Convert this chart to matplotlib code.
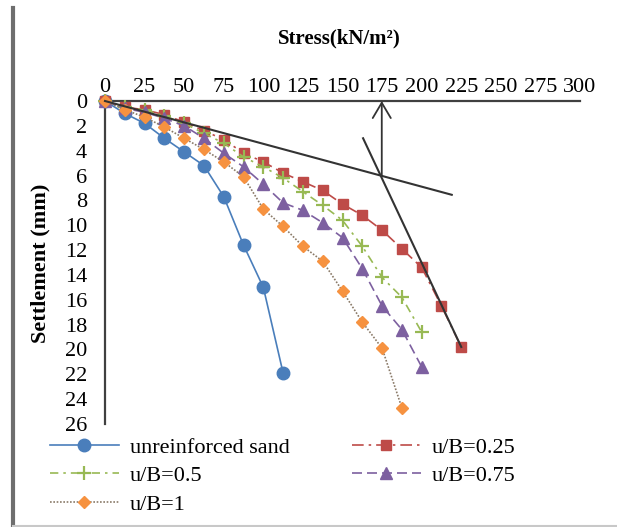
import matplotlib
matplotlib.use("Agg")
import matplotlib.pyplot as plt
from matplotlib.lines import Line2D

plt.rcParams['font.family'] = ['Liberation Serif', 'DejaVu Serif']

# ---- data (stress kN/m^2, settlement mm) ----
stress_unreinf = [0, 12.5, 25, 37.5, 50, 62.5, 75, 87.5, 100, 112.5]
settle_unreinf = [0, 1.0, 1.8, 3.0, 4.1, 5.2, 7.7, 11.6, 15.0, 21.9]

stress_025 = [0, 12.5, 25, 37.5, 50, 62.5, 75, 87.5, 100, 112.5, 125, 137.5,
              150, 162.5, 175, 187.5, 200, 212.5, 225]
settle_025 = [0, 0.5, 0.7, 1.1, 1.7, 2.4, 3.1, 4.2, 4.9, 5.8, 6.5, 7.2,
              8.3, 9.2, 10.4, 11.9, 13.4, 16.5, 19.8]

stress_05 = [0, 12.5, 25, 37.5, 50, 62.5, 75, 87.5, 100, 112.5, 125, 137.5,
             150, 162.5, 175, 187.5, 200]
settle_05 = [0, 0.5, 0.7, 1.2, 1.8, 2.6, 3.4, 4.5, 5.3, 6.2, 7.3, 8.4,
             9.6, 11.7, 14.2, 15.8, 18.6]

stress_075 = [0, 12.5, 25, 37.5, 50, 62.5, 75, 87.5, 100, 112.5, 125, 137.5,
              150, 162.5, 175, 187.5, 200]
settle_075 = [0, 0.6, 0.9, 1.4, 2.0, 3.0, 4.2, 5.3, 6.7, 8.2, 8.8, 9.8,
              11.0, 13.5, 16.5, 18.4, 21.4]

stress_1 = [0, 12.5, 25, 37.5, 50, 62.5, 75, 87.5, 100, 112.5, 125, 137.5,
            150, 162.5, 175, 187.5]
settle_1 = [0, 0.7, 1.3, 2.1, 3.0, 3.9, 4.9, 6.1, 8.7, 10.1, 11.7, 12.9,
            15.3, 17.8, 19.9, 24.7]

# tangent-intersection construction lines
tan1_x = [0, 219]
tan1_y = [0, 7.55]
tan2_x = [163, 225]
tan2_y = [3.0, 19.8]
arrow_x = 174.8
arrow_y0 = 6.0

xticks = [0, 25, 50, 75, 100, 125, 150, 175, 200, 225, 250, 275, 300]
yticks = [0, 2, 4, 6, 8, 10, 12, 14, 16, 18, 20, 22, 24, 26]

W, H = 617, 527
fig = plt.figure(figsize=(W / 100, H / 100), dpi=100)
ax = fig.add_axes([105 / W, 1 - 424 / H, (580 - 105) / W, (424 - 101) / H])

c_blue = '#4a7ebb'
c_red = '#be4b48'
c_green = '#98b954'
c_purple = '#7d60a0'
c_orange = '#f69240'

h1, = ax.plot(stress_unreinf, settle_unreinf, color=c_blue, lw=1.2, ls='-',
              marker='o', ms=9, clip_on=False, label='unreinforced sand', zorder=3)
h2, = ax.plot(stress_025, settle_025, color=c_red, lw=1.2, ls=(0, (7, 3, 1.5, 3)),
              marker='s', ms=6.5, clip_on=False, label='u/B=0.25', zorder=3)
h3, = ax.plot(stress_05, settle_05, color=c_green, lw=1.2, ls=(0, (5, 3, 1.5, 3)),
              marker='+', ms=10, mew=1.6, clip_on=False, label='u/B=0.5', zorder=3)
h4, = ax.plot(stress_075, settle_075, color=c_purple, lw=1.2, ls=(0, (6, 3)),
              marker='^', ms=8.5, clip_on=False, label='u/B=0.75', zorder=3)
h5, = ax.plot(stress_1, settle_1, color='#8a7a68', lw=1.2, ls=(0, (1, 1)),
              marker='D', ms=6.5, mfc=c_orange, mec=c_orange,
              clip_on=False, label='u/B=1', zorder=3)

# construction lines
ax.plot(tan1_x, tan1_y, color='#333333', lw=1.5, clip_on=False, zorder=4)
ax.plot(tan2_x, tan2_y, color='#333333', lw=1.5, clip_on=False, zorder=4)
ax.annotate('', xy=(arrow_x, 0), xytext=(arrow_x, arrow_y0),
            arrowprops=dict(arrowstyle='->,head_length=1.1,head_width=0.65',
                            color='#333333', lw=1.3, mutation_scale=10,
                            shrinkA=0, shrinkB=0), zorder=4)

ax.set_xlim(0, 300)
ax.set_ylim(26, 0)
ax.set_xticks(xticks)
ax.set_yticks(yticks)
ax.xaxis.tick_top()
ax.tick_params(axis='x', length=0, pad=3, labelsize=16)
ax.tick_params(axis='y', length=0, pad=13, labelsize=16)
for s in ['right', 'bottom']:
    ax.spines[s].set_visible(False)
for s in ['top', 'left']:
    ax.spines[s].set_color('#404040')
    ax.spines[s].set_linewidth(1.6)

fig.text(339 / W, 1 - 38 / H, 'Stress(kN/m²)', fontsize=15, fontweight='bold',
         ha='center', va='center')
fig.text(40 / W, 1 - 263 / H, 'Settlement (mm)', fontsize=16, fontweight='bold',
         ha='center', va='center', rotation=90)

leg = fig.legend([h1, h3, h5, h2, h4],
                 ['unreinforced sand', 'u/B=0.5', 'u/B=1', 'u/B=0.25', 'u/B=0.75'],
                 ncol=2, loc='upper left', bbox_to_anchor=(50 / W, 1 - 437 / H),
                 frameon=False, fontsize=16, handlelength=3.1, handletextpad=0.5,
                 columnspacing=2.8, labelspacing=0.36, borderpad=0, borderaxespad=0)

# image frame
fig.add_artist(Line2D([13 / W, 13 / W], [0, 1 - 8 / H], color='#6e6e6e', lw=3,
                      transform=fig.transFigure))
fig.add_artist(Line2D([13 / W, 1], [1 / H, 1 / H], color='#c8c8c8', lw=1.5,
                      transform=fig.transFigure))

fig.savefig('out.png', dpi=100)
